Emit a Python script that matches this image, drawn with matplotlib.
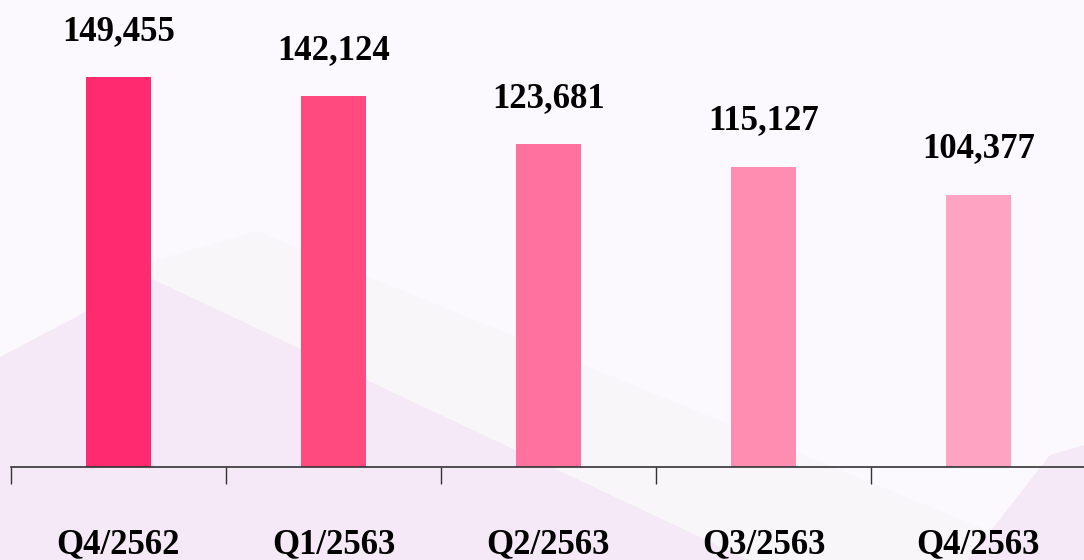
import matplotlib.pyplot as plt
from matplotlib.patches import Polygon
from matplotlib.ticker import FixedLocator

quarters = ["Q4/2562", "Q1/2563", "Q2/2563", "Q3/2563", "Q4/2563"]
values = [149455, 142124, 123681, 115127, 104377]
bar_colors = ["#ff2a70", "#ff4a80", "#ff72a0", "#ff8cb1", "#ffa3c3"]

W, H = 1084, 560
BG = "#fbf9fd"


def _px(points):
    # pixel coords (origin top-left) -> figure fraction
    return [(x / W, 1 - y / H) for x, y in points]


fig = plt.figure(figsize=(W / 100, H / 100), dpi=100, facecolor=BG)

# soft background shapes on their own axes behind the chart
bg = fig.add_axes([0, 0, 1, 1], zorder=0)
bg.set_xlim(0, 1)
bg.set_ylim(0, 1)
bg.axis("off")
bg.add_patch(Polygon(_px([(150, 262), (257, 231), (1084, 570), (1084, 600), (150, 600)]),
                     closed=True, facecolor="#f8f6f9", edgecolor="none"))
bg.add_patch(Polygon(_px([(0, 357), (150, 278), (770, 570), (0, 570)]),
                     closed=True, facecolor="#f6e9f7", edgecolor="none"))
bg.add_patch(Polygon(_px([(1050, 455), (1084, 445), (1084, 570), (960, 570)]),
                     closed=True, facecolor="#f6e9f7", edgecolor="none"))

ax = fig.add_axes([11 / W, 93 / H, 1073 / W, 467 / H], zorder=1)
ax.set_facecolor("none")

x = list(range(len(quarters)))
bars = ax.bar(x, values, width=0.30, color=bar_colors, zorder=2)
ax.set_xlim(-0.5, -0.5 + 1073 / 215)
ax.set_ylim(0, 179000)

for bar, v in zip(bars, values):
    ax.annotate(f"{v:,}", (bar.get_x() + bar.get_width() / 2, v), xytext=(0, 33),
                textcoords="offset points", ha="center", va="center",
                fontsize=25, fontweight="bold", family="Liberation Serif", color="#000000")

for side in ("left", "right", "top"):
    ax.spines[side].set_visible(False)
ax.spines["bottom"].set_color("#333333")
ax.spines["bottom"].set_linewidth(1.2)
ax.set_yticks([])

ax.xaxis.set_major_locator(FixedLocator([i - 0.5 for i in range(len(quarters) + 1)]))
ax.xaxis.set_major_formatter(plt.NullFormatter())
ax.tick_params(axis="x", which="major", length=12.5, width=1.0, color="#333333")
ax.xaxis.set_minor_locator(FixedLocator(x))
ax.set_xticklabels(quarters, minor=True, fontsize=25, fontweight="bold", family="Liberation Serif")
ax.tick_params(axis="x", which="minor", length=0, pad=44)

fig.savefig("out.png", dpi=100, facecolor=BG)
